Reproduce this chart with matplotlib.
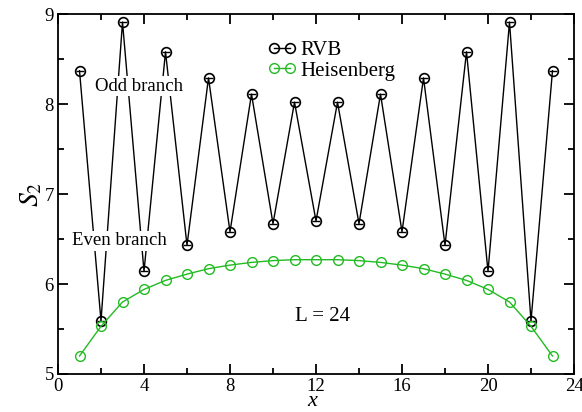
import numpy as np
import matplotlib.pyplot as plt
from matplotlib.ticker import MultipleLocator

plt.rcParams['font.family'] = ['Liberation Serif', 'DejaVu Serif']
plt.rcParams['mathtext.fontset'] = 'stix'

# data
x = np.arange(1, 24)
rvb = [8.37, 5.59, 8.91, 6.14, 8.58, 6.43, 8.29, 6.58, 8.11, 6.67, 8.02, 6.70,
       8.02, 6.67, 8.11, 6.58, 8.29, 6.43, 8.58, 6.14, 8.91, 5.59, 8.37]
heis = [5.20, 5.53, 5.80, 5.94, 6.04, 6.11, 6.17, 6.21, 6.24, 6.26, 6.27, 6.27,
        6.27, 6.26, 6.24, 6.21, 6.17, 6.11, 6.04, 5.94, 5.80, 5.53, 5.20]

fig = plt.figure(figsize=(5.82, 4.12), dpi=100)
ax = fig.add_axes([58/582, 38/412, 516/582, 360/412])

ax.plot(x, rvb, '-o', color='black', lw=1, ms=7, mfc='none', mew=1.2, label='RVB')
ax.plot(x, rvb, '_', color='black', ms=6, mew=1.0)  # bar inside the RVB circles
ax.plot(x, heis, '-o', color='#22bb22', lw=1, ms=7, mfc='none', mew=1.0, label='Heisenberg')

ax.set_xlim(0, 24)
ax.set_ylim(5, 9)
ax.xaxis.set_major_locator(MultipleLocator(4))
ax.xaxis.set_minor_locator(MultipleLocator(2))
ax.yaxis.set_major_locator(MultipleLocator(1))
ax.yaxis.set_minor_locator(MultipleLocator(0.5))
ax.tick_params(which='both', direction='in', top=True, right=True, labelsize=13.5, width=1.3, pad=3)
ax.tick_params(which='major', length=7)
ax.tick_params(which='minor', length=4)
for s in ax.spines.values():
    s.set_linewidth(1.3)

# x label placed just under the tick labels, as in the original
fig.text(312/582, 1/412, 'x', fontsize=16, style='italic', ha='center', va='bottom')
ax.set_ylabel('$S_2$', fontsize=20, labelpad=0)

ax.text(3.75, 8.2, 'Odd branch', fontsize=13.5, ha='center', va='center',
        bbox=dict(facecolor='white', edgecolor='none', pad=1))
ax.text(2.85, 6.48, 'Even branch', fontsize=13.5, ha='center', va='center',
        bbox=dict(facecolor='white', edgecolor='none', pad=1))
ax.text(12.3, 5.64, 'L = 24', fontsize=15, ha='center', va='center')

leg = ax.legend(loc='upper center', bbox_to_anchor=(0.53, 0.95), frameon=False,
                fontsize=15, handlelength=1.4, handletextpad=0.2, labelspacing=0.05,
                borderaxespad=0, numpoints=2)

fig.savefig('out.png', dpi=100)
